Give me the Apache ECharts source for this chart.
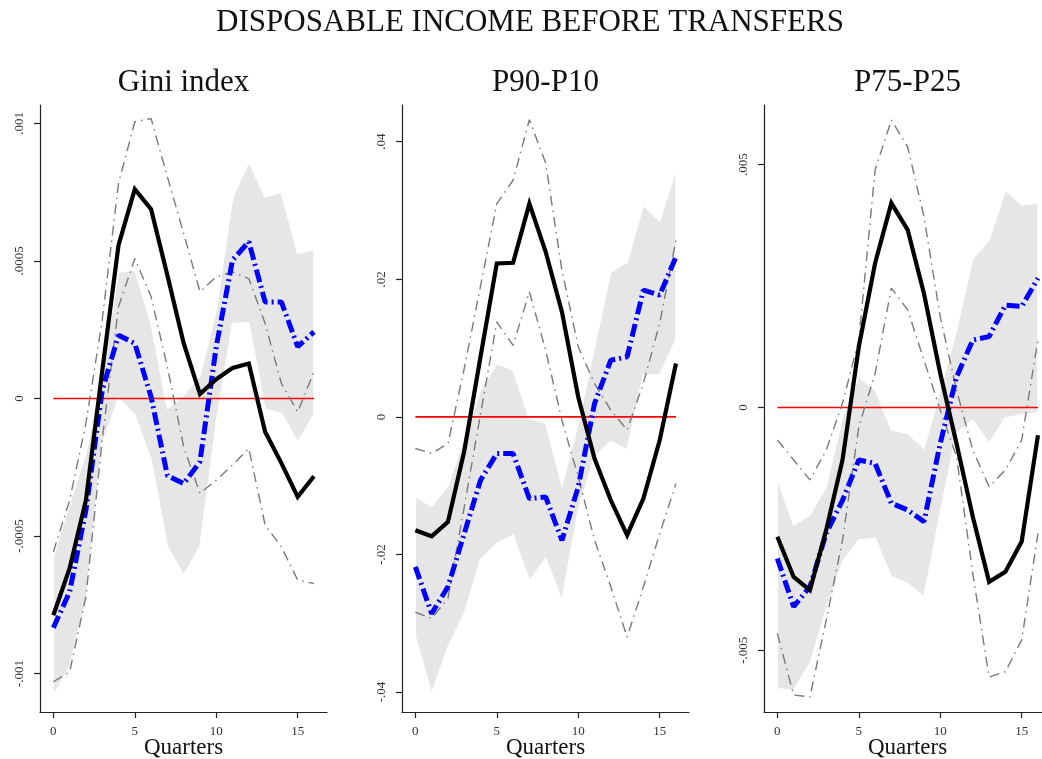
<!DOCTYPE html>
<html>
<head>
<meta charset="utf-8">
<title>Disposable income before transfers</title>
<script src="https://cdn.jsdelivr.net/npm/echarts@6/dist/echarts.min.js"></script>
<style>
  html, body { margin: 0; padding: 0; background: #fff; }
  #chart { width: 1042px; height: 759px; }
</style>
</head>
<body>
<div id="chart"></div>
<script>
// Horizon, in quarters
const quarters = [0, 1, 2, 3, 4, 5, 6, 7, 8, 9, 10, 11, 12, 13, 14, 15, 16];
const xTicks = [0, 5, 10, 15];

// Gini index
const giniPoint   = [-0.000788, -0.000617, -0.00037, 0.0001, 0.000557, 0.000761, 0.000688, 0.000448, 0.000201, 0.000016, 0.00007, 0.000111, 0.000127, -0.000121, -0.000235, -0.000358, -0.000283];
const giniPointHi = [-0.000558, -0.00037, -0.00009, 0.000285, 0.000782, 0.001006, 0.001018, 0.000806, 0.0006, 0.000388, 0.000442, 0.00046, 0.000436, 0.000273, 0.000055, -0.000049, 0.000097];
const giniPointLo = [-0.00103, -0.000994, -0.000721, -0.00015, 0.000333, 0.000509, 0.00037, 0.000115, -0.000176, -0.000345, -0.000297, -0.000242, -0.000182, -0.00046, -0.00054, -0.00066, -0.000673];
const giniAlt     = [-0.000834, -0.000703, -0.000406, 0.00003, 0.00023, 0.0002, 0.000006, -0.00028, -0.00031, -0.00023, 0.000188, 0.000503, 0.00057, 0.000351, 0.000351, 0.000188, 0.000242];
const giniAltHi   = [-0.000576, -0.00038, -0.0002, 0.0001, 0.00046, 0.000467, 0.000273, -0.000036, 0.000012, 0.00008, 0.00032, 0.00073, 0.00086, 0.000733, 0.00075, 0.000527, 0.000542];
const giniAltLo   = [-0.00108, -0.000976, -0.000733, -0.000163, 0.0, -0.00006, -0.000224, -0.00054, -0.000643, -0.00054, -0.00009, 0.000273, 0.000275, -0.00004, -0.000054, -0.000158, -0.00006];
const giniTicks = [-0.001, -0.0005, 0, 0.0005, 0.001];
const giniTickLabels = ['-.001', '-.0005', '0', '.0005', '.001'];

// P90-P10
const p9010Point   = [-0.01648, -0.01735, -0.01527, -0.005, 0.00873, 0.0223, 0.0224, 0.031, 0.024, 0.01527, 0.0029, -0.00606, -0.01212, -0.0172, -0.01188, -0.00339, 0.00776];
const p9010PointHi = [-0.0046, -0.0053, -0.0039, 0.007, 0.019, 0.031, 0.0344, 0.0432, 0.0369, 0.0213, 0.0102, 0.00485, 0.00097, -0.0019, 0.0049, 0.0136, 0.0257];
const p9010PointLo = [-0.0284, -0.0293, -0.0264, -0.0131, 0.0004, 0.0138, 0.0104, 0.0182, 0.0097, -0.0005, -0.0087, -0.0179, -0.0247, -0.032, -0.0247, -0.017, -0.0097];
const p9010Alt     = [-0.0218, -0.0286, -0.0247, -0.01697, -0.0092, -0.00533, -0.00533, -0.01188, -0.01164, -0.01794, -0.01018, 0.00194, 0.00824, 0.00873, 0.01843, 0.0177, 0.02327];
const p9010AltHi   = [-0.01164, -0.013, -0.01, -0.003, 0.0039, 0.00776, 0.0068, -0.0002, -0.0009, -0.00994, -0.001, 0.0102, 0.0211, 0.0225, 0.0308, 0.0284, 0.0361];
const p9010AltLo   = [-0.032, -0.0402, -0.0335, -0.0286, -0.0208, -0.0184, -0.0172, -0.0238, -0.0206, -0.0267, -0.0136, -0.0058, -0.0036, -0.0048, 0.0061, 0.0061, 0.0112];
const p9010Ticks = [-0.04, -0.02, 0, 0.02, 0.04];
const p9010TickLabels = ['-.04', '-.02', '0', '.02', '.04'];

// P75-P25
const p7525Point   = [-0.00266, -0.00349, -0.00376, -0.00252, -0.00108, 0.00125, 0.00297, 0.00421, 0.00366, 0.00235, 0.0007, -0.00074, -0.00225, -0.00359, -0.00338, -0.00276, -0.00057];
const p7525PointHi = [-0.00067, -0.00108, -0.00149, -0.00088, 0.00009, 0.00139, 0.00489, 0.00592, 0.00537, 0.00393, 0.00187, 0.00036, -0.00088, -0.00163, -0.00129, -0.00067, 0.0014];
const p7525PointLo = [-0.00465, -0.00592, -0.00596, -0.00438, -0.00273, -0.0004, 0.0007, 0.00246, 0.00201, 0.00098, -0.00005, -0.00101, -0.00342, -0.00555, -0.00544, -0.00479, -0.00259];
const p7525Alt     = [-0.00311, -0.0041, -0.00369, -0.00259, -0.00191, -0.00108, -0.00115, -0.00197, -0.00211, -0.00235, -0.00074, 0.00063, 0.00139, 0.00146, 0.00211, 0.00208, 0.00266];
const p7525AltHi   = [-0.00146, -0.00242, -0.00221, -0.00163, -0.00019, 0.00063, 0.00036, -0.00046, -0.00053, -0.00084, 0.00036, 0.0016, 0.00307, 0.00345, 0.00448, 0.00417, 0.00421];
const p7525AltLo   = [-0.00579, -0.00582, -0.00527, -0.00417, -0.00318, -0.00273, -0.00269, -0.00349, -0.00362, -0.0039, -0.00218, -0.00053, -0.00026, -0.00074, -0.00022, -0.00015, -0.0001];
const p7525Ticks = [-0.005, 0, 0.005];
const p7525TickLabels = ['-.005', '0', '.005'];

const panels = [
  { name: 'Gini index', point: giniPoint, hi: giniPointHi, lo: giniPointLo, alt: giniAlt, altHi: giniAltHi, altLo: giniAltLo,
    ticks: giniTicks, labels: giniTickLabels, yMin: -0.00114, yMax: 0.001067, left: 40 },
  { name: 'P90-P10', point: p9010Point, hi: p9010PointHi, lo: p9010PointLo, alt: p9010Alt, altHi: p9010AltHi, altLo: p9010AltLo,
    ticks: p9010Ticks, labels: p9010TickLabels, yMin: -0.0429, yMax: 0.04534, left: 402 },
  { name: 'P75-P25', point: p7525Point, hi: p7525PointHi, lo: p7525PointLo, alt: p7525Alt, altHi: p7525AltHi, altLo: p7525AltLo,
    ticks: p7525Ticks, labels: p7525TickLabels, yMin: -0.00627, yMax: 0.00623, left: 764 }
];

const FONT = '"Liberation Serif", "DejaVu Serif", serif';
const GRID_TOP = 105, GRID_H = 607, GRID_W = 287;

const pairs = arr => quarters.map((q, i) => [q, arr[i]]);

const grids = [], xAxes = [], yAxes = [], series = [], texts = [];

panels.forEach((p, k) => {
  grids.push({ left: p.left, top: GRID_TOP, width: GRID_W, height: GRID_H,
               containLabel: false, outerBoundsMode: 'none' });

  xAxes.push({
    type: 'value', gridIndex: k, min: -0.82, max: 16.8,
    axisLine: { show: true, onZero: false, lineStyle: { color: '#222', width: 1.2 } },
    axisTick: { show: true, inside: false, length: 6, customValues: xTicks, lineStyle: { color: '#222', width: 1.2 } },
    axisLabel: { show: true, customValues: xTicks, margin: 13, fontFamily: FONT, fontSize: 13, color: '#333' },
    splitLine: { show: false }
  });

  yAxes.push({
    type: 'value', gridIndex: k, min: p.yMin, max: p.yMax,
    axisLine: { show: true, onZero: false, lineStyle: { color: '#222', width: 1.2 } },
    axisTick: { show: true, inside: false, length: 6, customValues: p.ticks, lineStyle: { color: '#222', width: 1.2 } },
    axisLabel: {
      show: true, customValues: p.ticks, rotate: 90, margin: 14,
      fontFamily: FONT, fontSize: 13, color: '#333',
      formatter: v => p.labels[p.ticks.indexOf(v)] ?? ''
    },
    splitLine: { show: false }
  });

  // confidence band for the alternative estimate
  series.push({
    type: 'custom', xAxisIndex: k, yAxisIndex: k, silent: true, clip: true, z: 1,
    data: [[0, 0]],
    renderItem: (params, api) => {
      const up = quarters.map((q, i) => api.coord([q, p.altHi[i]]));
      const dn = quarters.map((q, i) => api.coord([q, p.altLo[i]])).reverse();
      return {
        type: 'polygon',
        shape: { points: up.concat(dn) },
        style: { fill: '#e6e6e6', stroke: '#ffffff', lineWidth: 1.5 }
      };
    }
  });

  // zero reference line
  series.push({
    type: 'line', xAxisIndex: k, yAxisIndex: k, data: [[0, 0], [16, 0]],
    symbol: 'none', silent: true, z: 2,
    lineStyle: { color: '#ff0000', width: 1.6 }
  });

  // confidence bounds for the point estimate
  [p.hi, p.lo].forEach(b => series.push({
    type: 'line', xAxisIndex: k, yAxisIndex: k, data: pairs(b),
    symbol: 'none', silent: true, z: 3,
    lineStyle: { color: '#7a7a7a', width: 1.4, type: [10, 5, 1.5, 5] }
  }));

  // alternative estimate
  series.push({
    type: 'line', xAxisIndex: k, yAxisIndex: k, data: pairs(p.alt),
    symbol: 'none', silent: true, z: 4,
    lineStyle: { color: '#0000ff', width: 5, type: [13, 4, 2, 4] }
  });

  // point estimate
  series.push({
    type: 'line', xAxisIndex: k, yAxisIndex: k, data: pairs(p.point),
    symbol: 'none', silent: true, z: 5,
    lineStyle: { color: '#000000', width: 4.2, join: 'miter' }
  });

  // panel title
  texts.push({
    type: 'text',
    style: { x: p.left + GRID_W / 2, y: 83, text: p.name, textAlign: 'center', textVerticalAlign: 'middle',
             font: '31px ' + FONT, fill: '#111' }
  });

  // x-axis title
  texts.push({
    type: 'text',
    style: { x: p.left + GRID_W / 2, y: 748, text: 'Quarters', textAlign: 'center', textVerticalAlign: 'middle',
             font: '23px ' + FONT, fill: '#111' }
  });
});

texts.push({
  type: 'text',
  style: { x: 530, y: 23, text: 'DISPOSABLE INCOME BEFORE TRANSFERS', textAlign: 'center', textVerticalAlign: 'middle',
           font: '31px ' + FONT, fill: '#111' }
});

const chart = echarts.init(document.getElementById('chart'), null, { renderer: 'canvas' });
chart.setOption({
  backgroundColor: '#ffffff',
  animation: false,
  grid: grids,
  xAxis: xAxes,
  yAxis: yAxes,
  series: series,
  graphic: texts
});
</script>
</body>
</html>
